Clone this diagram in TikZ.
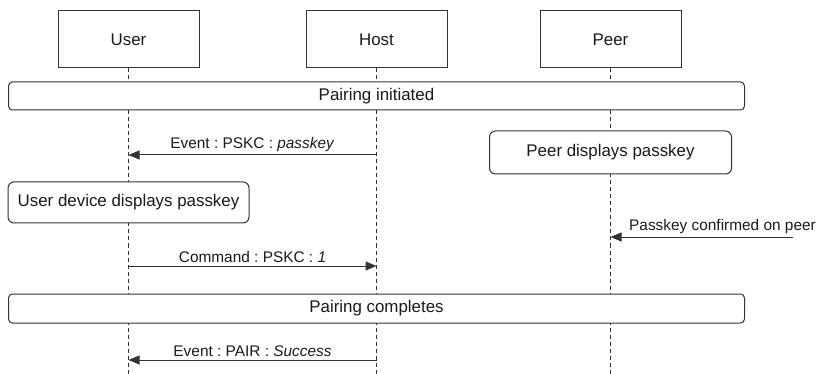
\documentclass[tikz,border=0pt]{standalone}
\usepackage{fontspec}
\setmainfont{Liberation Sans}
\usetikzlibrary{arrows.meta,positioning}
\definecolor{ink}{HTML}{1A1A1A}
\definecolor{edge}{HTML}{333333}
\newcommand{\BoxW}{141}
\newcommand{\BoxH}{57}
\newcommand{\BandW}{736}
\newcommand{\LifeEnd}{374}
\frenchspacing

\tikzset{
  actor/.style={draw=edge, fill=white, line width=1pt, text=ink, inner sep=0pt,
    minimum width=\BoxW pt, minimum height=\BoxH pt, font=\fontsize{16.9}{20}\selectfont},
  band/.style={draw=edge, fill=white, line width=1pt, text=ink, inner sep=0pt, rounded corners=4pt,
    minimum width=\BandW pt, minimum height=28pt, font=\fontsize{16.9}{20}\selectfont},
  note/.style={draw=edge, fill=white, line width=1pt, text=ink, inner sep=0pt, rounded corners=6pt,
    font=\fontsize{16.9}{20}\selectfont},
  lifeline/.style={edge, line width=1pt, dash pattern=on 4pt off 3pt},
  msg/.style={edge, line width=1pt, -{Triangle[length=11pt, width=9pt]}},
  msglabel/.style={text=ink, inner sep=3pt, font=\fontsize{15.4}{18}\selectfont}
}

\begin{document}
\begin{tikzpicture}[x=1pt, y=-1pt]
\useasboundingbox (0,0) rectangle (819,374);

% --- Actors along the top ------------------------------------------------------
\node[actor] (user) at (128.5,39.5) {User};
\node[actor, right=106pt of user] (host) {Host};
\node[actor, right=92pt of host] (peer) {Peer};

% --- Lifelines: one per actor, down to the bottom --------------------------------
\foreach \who in {user, host, peer} {
  \coordinate (\who-end) at (\who.south |- 0,\LifeEnd);
  \draw[lifeline] (\who.south) -- (\who-end);
}

% --- Phases and notes ------------------------------------------------------------
\node[band] (initiated) at (host |- 0,96) {Pairing initiated};
\node[note, minimum width=242pt, minimum height=43pt] (peershows) at (peer |- 0,152.5) {Peer displays passkey};
\node[note, minimum width=241pt, minimum height=41pt] (usershows) at (user |- 0,202.5) {User device displays passkey};
\node[band, minimum height=29pt] (completes) at (host |- 0,308.5) {Pairing completes};

% --- Messages ----------------------------------------------------------------------
\draw[msg] (host |- 0,155) -- node[msglabel, above] (askpass) {Event : PSKC : \textit{passkey}} (user |- 0,155);

\coordinate (confirm) at (793,237);
\draw[msg] (confirm) -- (peer |- confirm);
\node[msglabel, anchor=west] (confirmed) at (626,226.5) {Passkey confirmed on peer};

\draw[msg] (user |- 0,266) -- node[msglabel, above] (sendpass) {Command : PSKC : \textit{1}} (host |- 0,266);
\draw[msg] (host |- 0,360) -- node[msglabel, above] (paired) {Event : PAIR : \textit{Success}} (user |- 0,360);

\end{tikzpicture}
\end{document}
